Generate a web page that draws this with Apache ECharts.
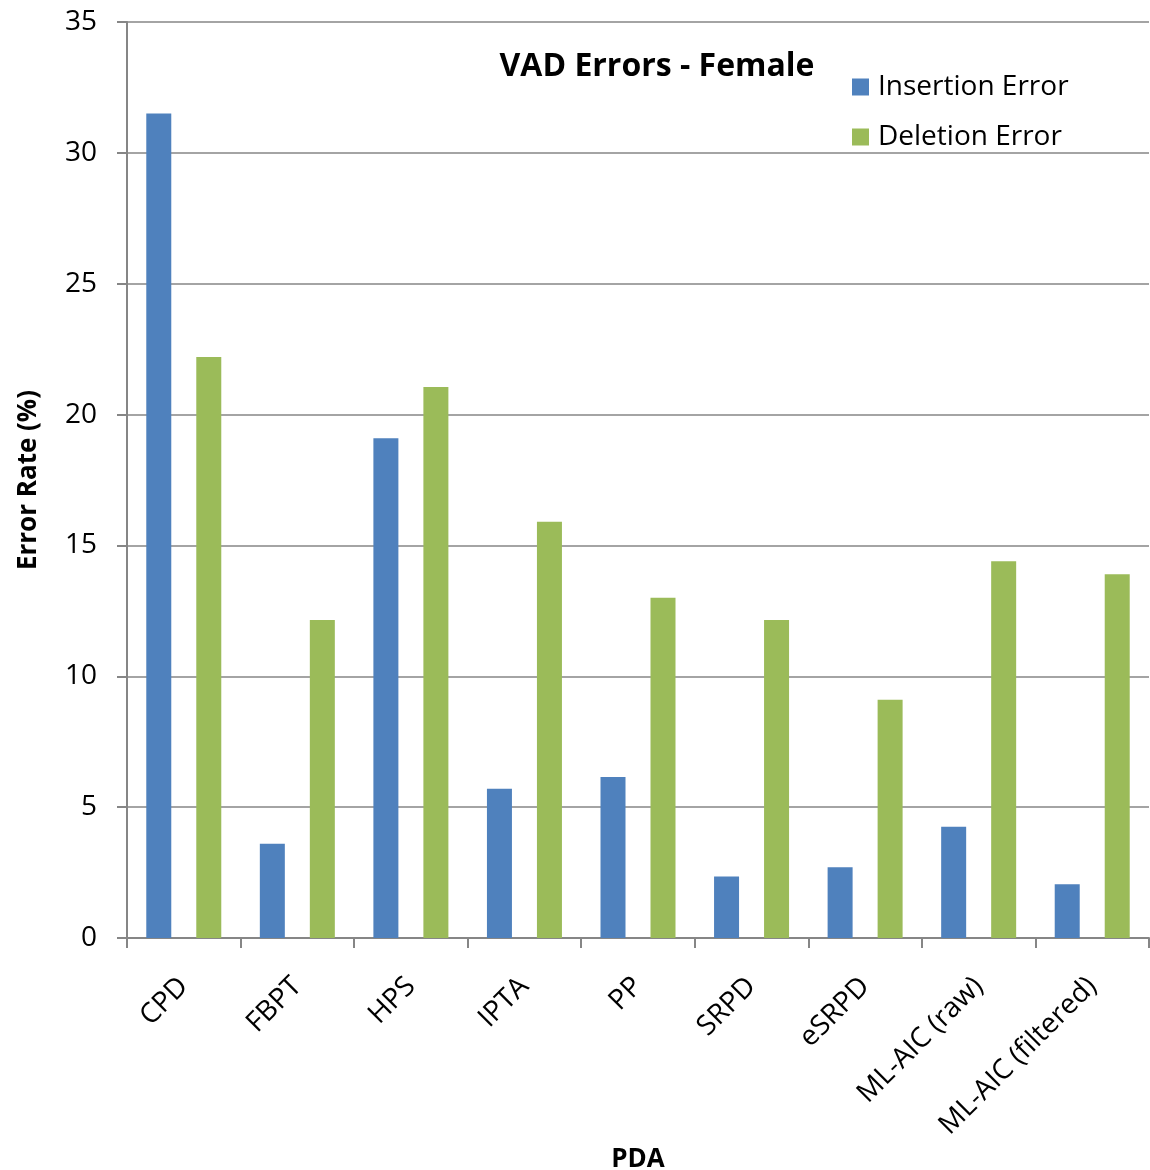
<!DOCTYPE html>
<html>
<head>
<meta charset="utf-8">
<script src="https://cdn.jsdelivr.net/npm/echarts@6/dist/echarts.min.js"></script>
<style>
  html, body { margin: 0; padding: 0; background: #fff; }
  #chart { width: 1150px; height: 1170px; }
</style>
</head>
<body>
<div id="chart"></div>
<script>
// Pitch detection algorithms compared
const categories = ['CPD', 'FBPT', 'HPS', 'IPTA', 'PP', 'SRPD', 'eSRPD', 'ML-AIC (raw)', 'ML-AIC (filtered)'];
// Error rates (%) per algorithm
const insertionError = [31.5, 3.6, 19.1, 5.7, 6.15, 2.35, 2.7, 4.25, 2.05];
const deletionError = [22.2, 12.15, 21.05, 15.9, 13.0, 12.15, 9.1, 14.4, 13.9];
const yTicks = { min: 0, max: 35, interval: 5 };

const FONT = '"Open Sans", "Liberation Sans", sans-serif';
const AXIS_GREY = '#868686';

const chart = echarts.init(document.getElementById('chart'), null, { renderer: 'canvas' });

chart.setOption({
  animation: false,
  backgroundColor: '#ffffff',
  title: {
    text: 'VAD Errors - Female',
    left: 657,
    top: 51,
    padding: 0,
    textAlign: 'center',
    textStyle: { fontFamily: FONT, fontWeight: 'bold', fontSize: 32, color: '#000' }
  },
  legend: {
    orient: 'vertical',
    left: 852,
    top: 73,
    padding: 0,
    itemWidth: 17,
    itemHeight: 17,
    itemGap: 22,
    icon: 'rect',
    textStyle: { fontFamily: FONT, fontSize: 28, color: '#000', padding: [0, 0, 0, 4] },
    data: ['Insertion Error', 'Deletion Error']
  },
  grid: { left: 127, right: 1, top: 22, bottom: 232, containLabel: false, outerBoundsMode: 'none' },
  xAxis: {
    type: 'category',
    data: categories,
    name: 'PDA',
    nameLocation: 'middle',
    nameGap: 199,
    nameTextStyle: { fontFamily: FONT, fontWeight: 'bold', fontSize: 26, color: '#000' },
    axisLine: { lineStyle: { color: AXIS_GREY, width: 2 } },
    axisTick: { show: true, length: 10, lineStyle: { color: AXIS_GREY, width: 2 } },
    axisLabel: { rotate: 45, fontFamily: FONT, fontSize: 28, color: '#000', margin: 44, interval: 0 }
  },
  yAxis: {
    type: 'value',
    min: yTicks.min,
    max: yTicks.max,
    interval: yTicks.interval,
    name: 'Error Rate (%)',
    nameLocation: 'middle',
    nameGap: 85,
    nameTextStyle: { fontFamily: FONT, fontWeight: 'bold', fontSize: 26, color: '#000' },
    axisLine: { show: true, lineStyle: { color: AXIS_GREY, width: 2 } },
    axisTick: { show: true, length: 10, lineStyle: { color: AXIS_GREY, width: 2 } },
    axisLabel: { fontFamily: FONT, fontSize: 28, color: '#000', margin: 30 },
    splitLine: { show: true, lineStyle: { color: AXIS_GREY, width: 1.5 } }
  },
  series: [
    {
      name: 'Insertion Error',
      type: 'bar',
      data: insertionError,
      barWidth: 25,
      barGap: '100%',
      itemStyle: { color: '#4F81BD' }
    },
    {
      name: 'Deletion Error',
      type: 'bar',
      data: deletionError,
      barWidth: 25,
      barGap: '100%',
      itemStyle: { color: '#9BBB59' }
    }
  ]
});
</script>
</body>
</html>
